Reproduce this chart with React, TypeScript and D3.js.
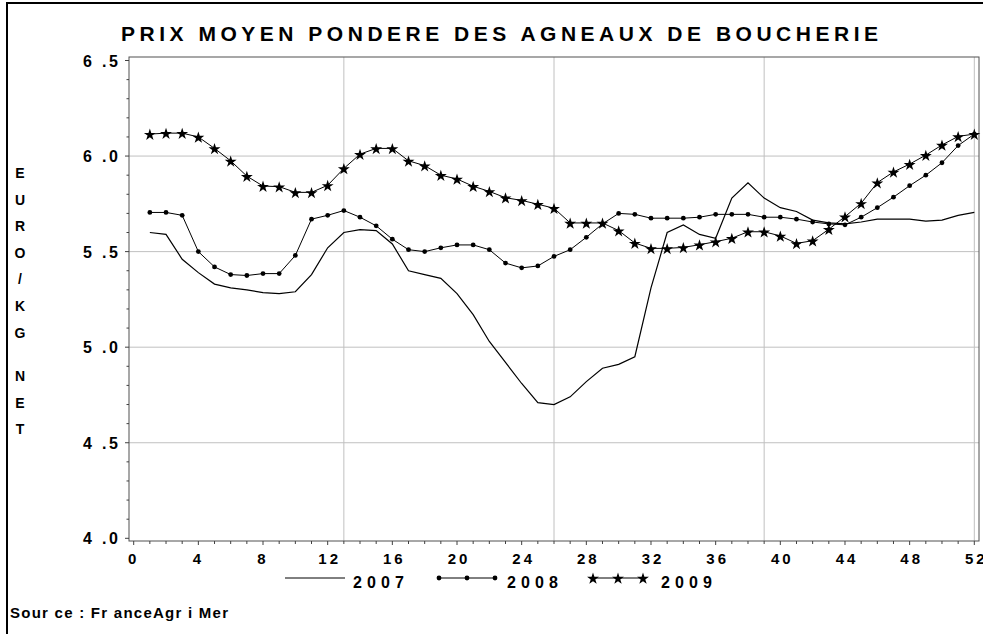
import { useEffect, useRef } from "react";
import * as d3 from "d3";

const weeks = [
  1, 2, 3, 4, 5, 6, 7, 8, 9, 10, 11, 12, 13, 14, 15, 16, 17, 18, 19, 20, 21, 22, 23, 24, 25, 26,
  27, 28, 29, 30, 31, 32, 33, 34, 35, 36, 37, 38, 39, 40, 41, 42, 43, 44, 45, 46, 47, 48, 49, 50,
  51, 52,
];

const price2007 = [
  5.6, 5.59, 5.46, 5.39, 5.33, 5.31, 5.3, 5.285, 5.28, 5.29, 5.38, 5.52, 5.6, 5.615, 5.61, 5.54,
  5.4, 5.38, 5.36, 5.28, 5.17, 5.03, 4.92, 4.81, 4.71, 4.7, 4.74, 4.82, 4.89, 4.91, 4.95, 5.31,
  5.6, 5.64, 5.59, 5.57, 5.78, 5.86, 5.78, 5.73, 5.71, 5.665, 5.65, 5.645, 5.655, 5.67, 5.67,
  5.67, 5.66, 5.665, 5.69, 5.705,
];

const price2008 = [
  5.705, 5.705, 5.69, 5.5, 5.42, 5.38, 5.375, 5.385, 5.385, 5.48, 5.67, 5.69, 5.715, 5.68, 5.635,
  5.565, 5.51, 5.5, 5.52, 5.535, 5.535, 5.51, 5.44, 5.415, 5.425, 5.475, 5.51, 5.575, 5.645, 5.7,
  5.695, 5.675, 5.675, 5.675, 5.68, 5.695, 5.695, 5.695, 5.68, 5.68, 5.67, 5.655, 5.645, 5.64,
  5.68, 5.73, 5.785, 5.845, 5.9, 5.965, 6.055, 6.115,
];

const price2009 = [
  6.115, 6.12, 6.12, 6.1, 6.04, 5.975, 5.895, 5.843, 5.84, 5.81, 5.81, 5.847, 5.935, 6.01, 6.04,
  6.04, 5.975, 5.95, 5.9, 5.88, 5.842, 5.815, 5.782, 5.768, 5.748, 5.727, 5.65, 5.65, 5.65, 5.61,
  5.545, 5.517, 5.517, 5.522, 5.536, 5.552, 5.57, 5.604, 5.604, 5.582, 5.543, 5.557, 5.617, 5.683,
  5.753, 5.861, 5.917, 5.958, 6.005, 6.058, 6.103, 6.115,
];

const xTicks = [0, 4, 8, 12, 16, 20, 24, 28, 32, 36, 40, 44, 48, 52];
const xGrid = [13, 26, 39, 52];
const yTicks = [4.0, 4.5, 5.0, 5.5, 6.0, 6.5];
const yGrid = [4.5, 5.0, 5.5, 6.0];
const yearLabels = ["2007", "2008", "2009"];
const title = "PRIX MOYEN PONDERE DES AGNEAUX DE BOUCHERIE";
const yTitle = "EURO/KG NET";
const source = "Sour ce :  Fr anceAgr i Mer";

const FONT = "'Liberation Sans', Arial, sans-serif";

export default function App() {
  const svgRef = useRef<SVGSVGElement>(null);

  useEffect(() => {
    if (!svgRef.current) return;
    const svg = d3.select(svgRef.current);
    svg.selectAll("*").remove();

    const frame = { left: 129, right: 979, top: 57, bottom: 541 };

    // Scales
    const x = d3.scaleLinear().domain([-0.29, 52.29]).range([frame.left, frame.right]);
    const y = d3.scaleLinear().domain([4.0, 6.5]).range([538.3, 60.5]);

    // page border
    svg
      .append("path")
      .attr("d", "M7,640 L7,3 L990,3")
      .attr("fill", "none")
      .attr("stroke", "#000")
      .attr("stroke-width", 2);

    // title
    svg
      .append("text")
      .attr("x", 121)
      .attr("y", 41)
      .attr("textLength", 757)
      .attr("lengthAdjust", "spacing")
      .attr("font-family", FONT)
      .attr("font-weight", "bold")
      .attr("font-size", 21)
      .text(title);

    const g = svg.append("g");

    // grid
    g.selectAll(".ygrid")
      .data(yGrid)
      .enter()
      .append("line")
      .attr("x1", frame.left)
      .attr("x2", frame.right)
      .attr("y1", (d) => y(d))
      .attr("y2", (d) => y(d))
      .attr("stroke", "#c0c0c0")
      .attr("stroke-width", 1);

    g.selectAll(".xgrid")
      .data(xGrid)
      .enter()
      .append("line")
      .attr("x1", (d) => x(d))
      .attr("x2", (d) => x(d))
      .attr("y1", frame.top)
      .attr("y2", frame.bottom)
      .attr("stroke", "#c0c0c0")
      .attr("stroke-width", 1);

    // frame
    g.append("rect")
      .attr("x", frame.left)
      .attr("y", frame.top)
      .attr("width", frame.right - frame.left)
      .attr("height", frame.bottom - frame.top)
      .attr("fill", "none")
      .attr("stroke", "#505050")
      .attr("stroke-width", 1);

    // y axis ticks
    const yMinor = d3.range(40, 66).map((d) => d / 10);
    g.selectAll(".ytick")
      .data(yMinor)
      .enter()
      .append("line")
      .attr("x1", (d) => (Math.abs(d * 2 - Math.round(d * 2)) < 1e-6 ? frame.left - 4 : frame.left - 2.5))
      .attr("x2", frame.left)
      .attr("y1", (d) => y(d))
      .attr("y2", (d) => y(d))
      .attr("stroke", "#404040");

    g.selectAll(".ylabel")
      .data(yTicks)
      .enter()
      .append("text")
      .attr("x", 83)
      .attr("y", (d) => y(d) + 6)
      .attr("textLength", 35)
      .attr("lengthAdjust", "spacing")
      .attr("font-family", FONT)
      .attr("font-weight", "bold")
      .attr("font-size", 16)
      .text((d) => {
        const s = d.toFixed(1);
        return `${s[0]} .${s[2]}`;
      });

    // x axis ticks
    g.selectAll(".xtick")
      .data(d3.range(0, 53))
      .enter()
      .append("line")
      .attr("x1", (d) => x(d))
      .attr("x2", (d) => x(d))
      .attr("y1", frame.bottom)
      .attr("y2", (d) => (d % 4 === 0 ? frame.bottom + 4 : frame.bottom + 3))
      .attr("stroke", "#404040");

    g.selectAll(".xlabel")
      .data(xTicks)
      .enter()
      .append("text")
      .attr("x", (d) => x(d) + (d >= 10 ? 2 : 0))
      .attr("y", 564)
      .attr("text-anchor", "middle")
      .attr("font-family", FONT)
      .attr("font-weight", "bold")
      .attr("font-size", 15)
      .attr("letter-spacing", 3)
      .text((d) => String(d));

    // y axis title, stacked letters
    let ty = 178;
    yTitle.split("").forEach((ch) => {
      if (ch === " ") {
        ty += 17;
        return;
      }
      svg
        .append("text")
        .attr("x", 20)
        .attr("y", ty)
        .attr("text-anchor", "middle")
        .attr("font-family", FONT)
        .attr("font-weight", "bold")
        .attr("font-size", 14)
        .text(ch);
      ty += 26.6;
    });

    // series
    const line = d3
      .line<number>()
      .x((_, i) => x(weeks[i]))
      .y((d) => y(d));

    g.append("path")
      .datum(price2007)
      .attr("d", line)
      .attr("fill", "none")
      .attr("stroke", "#000")
      .attr("stroke-width", 1.2);

    g.append("path")
      .datum(price2008)
      .attr("d", line)
      .attr("fill", "none")
      .attr("stroke", "#000")
      .attr("stroke-width", 1);

    g.selectAll(".dot")
      .data(price2008)
      .enter()
      .append("circle")
      .attr("cx", (_, i) => x(weeks[i]))
      .attr("cy", (d) => y(d))
      .attr("r", 2.4)
      .attr("fill", "#000");

    g.append("path")
      .datum(price2009)
      .attr("d", line)
      .attr("fill", "none")
      .attr("stroke", "#000")
      .attr("stroke-width", 1);

    const star = d3.symbol().type(d3.symbolStar).size(44);
    g.selectAll(".star")
      .data(price2009)
      .enter()
      .append("path")
      .attr("d", star)
      .attr("transform", (d, i) => `translate(${x(weeks[i])},${y(d) + 0.8})`)
      .attr("fill", "#000");

    // legend
    const lg = svg.append("g");
    const ly = 578;
    lg.append("line").attr("x1", 285).attr("x2", 345).attr("y1", ly).attr("y2", ly).attr("stroke", "#000");
    lg.append("line").attr("x1", 439).attr("x2", 495).attr("y1", ly).attr("y2", ly).attr("stroke", "#000");
    [439, 467, 495].forEach((cx) =>
      lg.append("circle").attr("cx", cx).attr("cy", ly).attr("r", 2.4).attr("fill", "#000")
    );
    lg.append("line").attr("x1", 593).attr("x2", 643).attr("y1", ly).attr("y2", ly).attr("stroke", "#000");
    [593, 618, 643].forEach((cx) =>
      lg.append("path").attr("d", star).attr("transform", `translate(${cx},${ly + 0.8})`).attr("fill", "#000")
    );
    [353, 507, 661].forEach((lx, i) =>
      lg
        .append("text")
        .attr("x", lx)
        .attr("y", ly + 10)
        .attr("textLength", 51)
        .attr("lengthAdjust", "spacing")
        .attr("font-family", FONT)
        .attr("font-weight", "bold")
        .attr("font-size", 16)
        .text(yearLabels[i])
    );

    // source
    svg
      .append("text")
      .attr("x", 10)
      .attr("y", 618)
      .attr("textLength", 218)
      .attr("lengthAdjust", "spacing")
      .attr("font-family", FONT)
      .attr("font-weight", "bold")
      .attr("font-size", 15)
      .text(source);
  }, []);

  return (
    <svg
      ref={svgRef}
      width={983}
      height={634}
      style={{ position: "absolute", left: 0, top: 0, background: "#fff" }}
    />
  );
}
